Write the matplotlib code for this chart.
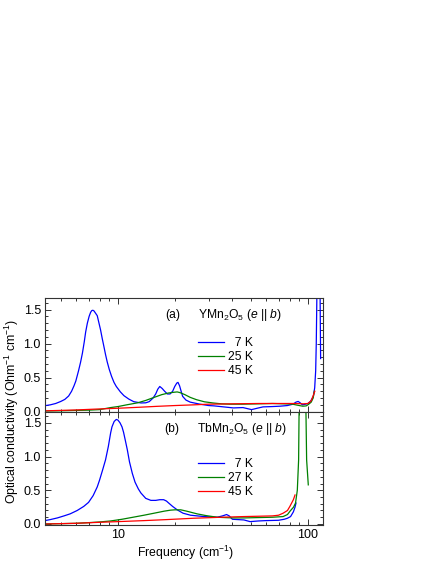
import matplotlib
matplotlib.use("Agg")
import matplotlib.pyplot as plt
from matplotlib.ticker import FixedLocator, FixedFormatter, LogLocator, NullFormatter, MultipleLocator, FormatStrFormatter

plt.rcParams['font.family'] = ['Liberation Sans', 'DejaVu Sans']
plt.rcParams['mathtext.fontset'] = 'custom'
plt.rcParams['mathtext.rm'] = 'Liberation Sans'
plt.rcParams['mathtext.it'] = 'Liberation Sans:italic'
plt.rcParams['mathtext.sf'] = 'Liberation Sans'

# ---------------- data ----------------
# (a) YMn2O5, e || b
ymn_7K_f = [4.13, 4.4, 4.7, 5.0, 5.25, 5.5, 5.7, 5.87, 6.0, 6.2, 6.36, 6.5, 6.65, 6.76, 6.9,
            7.05, 7.18, 7.28, 7.38, 7.48, 7.65, 7.78, 7.9, 8.1, 8.27, 8.4, 8.6, 8.78, 9.0,
            9.25, 9.53, 9.8, 10.3, 10.75, 11.4, 12.1, 13.2, 14.0, 14.6,
            15.3, 15.8, 16.2, 16.6, 17.1, 17.6, 18.2, 18.8, 19.4, 19.9, 20.4, 20.7, 21.1,
            21.5, 21.9, 22.8, 24.0, 27.0, 30.0, 32.0, 36.0, 40.5, 45.5, 50.5, 54.0, 58.0,
            65.0, 71.0, 78.0, 83.4, 86.5, 88.8, 91.0, 93.6, 97.0, 100.0, 103.0, 106.7,
            108.5, 109.8, 110.6, 111.3, 112.0, 115.3, 116.0, 116.6]
ymn_7K_s = [0.088, 0.10, 0.12, 0.15, 0.18, 0.23, 0.30, 0.38, 0.45, 0.60, 0.73, 0.86, 1.03, 1.17, 1.30,
            1.40, 1.46, 1.485, 1.49, 1.48, 1.44, 1.41, 1.33, 1.20, 1.07, 0.98, 0.84, 0.73, 0.62,
            0.52, 0.43, 0.37, 0.29, 0.235, 0.185, 0.147, 0.128, 0.13, 0.147,
            0.20, 0.26, 0.33, 0.37, 0.34, 0.30, 0.26, 0.26, 0.30, 0.37, 0.42, 0.43, 0.38,
            0.30, 0.225, 0.17, 0.14, 0.11, 0.09, 0.085, 0.07, 0.055, 0.06, 0.03, 0.05, 0.07,
            0.075, 0.08, 0.09, 0.11, 0.14, 0.15, 0.13, 0.10, 0.11, 0.12, 0.15, 0.22,
            0.35, 0.6, 1.0, 1.6, 2.5, 2.5, 1.5, 0.78]

ymn_25K_f = [4.13, 5.0, 6.0, 7.0, 8.0, 9.15, 10.0, 11.1, 12.7, 14.0, 15.5, 17.0, 18.5, 19.7,
             20.5, 21.2, 22.5, 24.0, 25.9, 28.5, 31.6, 35.0, 38.8, 45.0, 55.0, 65.0, 75.0,
             83.0, 88.0, 94.0, 98.0, 101.0, 104.0, 106.5, 108.0]
ymn_25K_s = [0.01, 0.013, 0.018, 0.022, 0.03, 0.06, 0.075, 0.10, 0.13, 0.165, 0.21, 0.25, 0.275, 0.285,
             0.29, 0.28, 0.25, 0.21, 0.176, 0.145, 0.128, 0.115, 0.11, 0.11, 0.115, 0.12, 0.115,
             0.11, 0.095, 0.08, 0.085, 0.11, 0.14, 0.2, 0.3]

ymn_45K_f = [4.13, 6.0, 8.0, 10.0, 13.0, 16.0, 20.0, 25.0, 30.0, 40.0, 55.0, 70.0, 85.0, 95.0,
             100.0, 104.0, 106.7, 108.7]
ymn_45K_s = [0.012, 0.025, 0.04, 0.05, 0.065, 0.078, 0.09, 0.10, 0.11, 0.115, 0.12, 0.12, 0.12, 0.115,
             0.12, 0.16, 0.24, 0.3]

# (b) TbMn2O5, e || b
tbm_7K_f = [4.13, 4.4, 4.8, 5.2, 5.6, 6.1, 6.6, 7.0, 7.4, 7.78, 8.0, 8.3, 8.6, 8.9, 9.15, 9.3,
            9.55, 9.8, 10.0, 10.25, 10.5, 10.7, 10.95, 11.2, 11.5, 11.9, 12.3, 12.8, 13.2,
            14.0, 14.9, 15.8, 16.6, 17.4, 18.0, 18.5,
            19.4, 20.5, 22.0, 24.1, 28.4, 33.3, 35.5, 37.3, 38.5, 40.0, 46.0, 49.6, 55.0,
            60.0, 70.0, 75.0, 78.0, 81.0, 83.8, 85.5, 86.5]
tbm_7K_s = [0.05, 0.065, 0.09, 0.12, 0.15, 0.20, 0.26, 0.32, 0.42, 0.55, 0.65, 0.80, 0.95, 1.15, 1.35, 1.44,
            1.52, 1.55, 1.54, 1.50, 1.44, 1.36, 1.23, 1.10, 0.92, 0.75, 0.62, 0.52, 0.46,
            0.38, 0.35, 0.35, 0.36, 0.36, 0.34, 0.31,
            0.26, 0.21, 0.16, 0.13, 0.11, 0.10, 0.12, 0.14, 0.12, 0.07, 0.06, 0.035, 0.045,
            0.05, 0.055, 0.07, 0.085, 0.11, 0.18, 0.25, 0.31]

tbm_27K_f = [4.13, 5.0, 6.0, 7.0, 8.0, 9.15, 10.5, 12.0, 13.7, 15.5, 17.5, 18.9, 20.0, 21.4,
             23.0, 24.5, 26.1, 29.0, 33.3, 40.0, 46.0, 55.0, 65.0, 74.0, 78.0, 81.0, 84.0,
             86.0, 87.9, 89.3, 89.8, 90.5, 96.8, 97.6, 98.4, 100.4]
tbm_27K_s = [0.0, 0.005, 0.01, 0.02, 0.03, 0.045, 0.07, 0.10, 0.13, 0.16, 0.19, 0.205, 0.21, 0.21,
             0.19, 0.17, 0.15, 0.125, 0.10, 0.09, 0.09, 0.095, 0.10, 0.11, 0.14, 0.2, 0.25,
             0.31, 0.5, 0.95, 1.66, 3.0, 3.0, 1.66, 0.95, 0.58]

tbm_45K_f = [4.13, 6.0, 8.0, 10.0, 13.7, 18.0, 25.0, 35.0, 46.0, 55.0, 65.0, 70.0, 74.0, 78.0,
             80.3, 83.8, 85.5]
tbm_45K_s = [0.0, 0.01, 0.025, 0.035, 0.05, 0.065, 0.085, 0.10, 0.11, 0.115, 0.12, 0.13, 0.16, 0.2,
             0.26, 0.36, 0.43]

labels_a = ["  7 K", "25 K", "45 K"]
labels_b = ["  7 K", "27 K", "45 K"]
colors = ["#0000ff", "#008000", "#ff0000"]

# ---------------- figure ----------------
fig = plt.figure(figsize=(4.36, 5.64), dpi=100)
W, H = 436, 564
left = 45 / W
width = 278 / W
ax1 = fig.add_axes([left, 1 - 412 / H, width, 114 / H])
ax2 = fig.add_axes([left, 1 - 525 / H, width, 113 / H])

spine_col = "#333333"
fs_tick = 9
fs_txt = 8.7
fs_lab = 8.8

def style(ax, ylim):
    ax.set_xscale('log')
    ax.set_xlim(4.13, 120)
    ax.set_ylim(*ylim)
    ax.yaxis.set_major_locator(MultipleLocator(0.5))
    ax.yaxis.set_minor_locator(MultipleLocator(0.1))
    ax.yaxis.set_major_formatter(FormatStrFormatter('%.1f'))
    ax.xaxis.set_major_locator(FixedLocator([10, 100]))
    ax.xaxis.set_major_formatter(FixedFormatter(["10", "100"]))
    ax.xaxis.set_minor_locator(LogLocator(base=10, subs=range(2, 10)))
    ax.xaxis.set_minor_formatter(NullFormatter())
    ax.tick_params(which='both', direction='in', top=True, right=True,
                   color=spine_col, labelsize=fs_tick, width=0.7)
    ax.tick_params(which='major', length=4, pad=3)
    ax.tick_params(which='minor', length=2)
    for s in ax.spines.values():
        s.set_color(spine_col)
        s.set_linewidth(0.8)

style(ax1, (-0.005, 1.67))
style(ax2, (-0.015, 1.66))
ax1.tick_params(axis='x', labelbottom=False)

lw = 0.9
h1 = []
for f, s, c, lab in zip([ymn_7K_f, ymn_25K_f, ymn_45K_f], [ymn_7K_s, ymn_25K_s, ymn_45K_s], colors, labels_a):
    ln, = ax1.plot(f, s, color=c, lw=lw, label=lab)
    h1.append(ln)
h2 = []
for f, s, c, lab in zip([tbm_7K_f, tbm_27K_f, tbm_45K_f], [tbm_7K_s, tbm_27K_s, tbm_45K_s], colors, labels_b):
    ln, = ax2.plot(f, s, color=c, lw=lw, label=lab)
    h2.append(ln)

leg_kw = dict(frameon=False, fontsize=fs_txt, handlelength=2.2, handletextpad=0.3,
              labelspacing=0.17, borderpad=0, borderaxespad=0, loc='center left')
ax1.legend(handles=h1, bbox_to_anchor=(0.55, 0.482), **leg_kw)
ax2.legend(handles=h2, bbox_to_anchor=(0.55, 0.416), **leg_kw)

ax1.text(0.433, 0.851, "(a)", transform=ax1.transAxes, fontsize=fs_txt, va='center')
ax1.text(0.55, 0.851, "YMn$_2$O$_5$ ($e$ || $b$)", transform=ax1.transAxes, fontsize=fs_txt, va='center')
ax2.text(0.428, 0.85, "(b)", transform=ax2.transAxes, fontsize=fs_txt, va='center')
ax2.text(0.545, 0.85, "TbMn$_2$O$_5$ ($e$ || $b$)", transform=ax2.transAxes, fontsize=fs_txt, va='center')

fig.text(0.0265, 1 - 411.5 / H, "Optical conductivity (Ohm$^{-1}$ cm$^{-1}$)", rotation=90,
         ha='center', va='center', fontsize=fs_lab)
fig.text(186 / W, 1 - 553 / H, "Frequency (cm$^{-1}$)", ha='center', va='center', fontsize=fs_lab)

fig.savefig("out.png", dpi=100)
